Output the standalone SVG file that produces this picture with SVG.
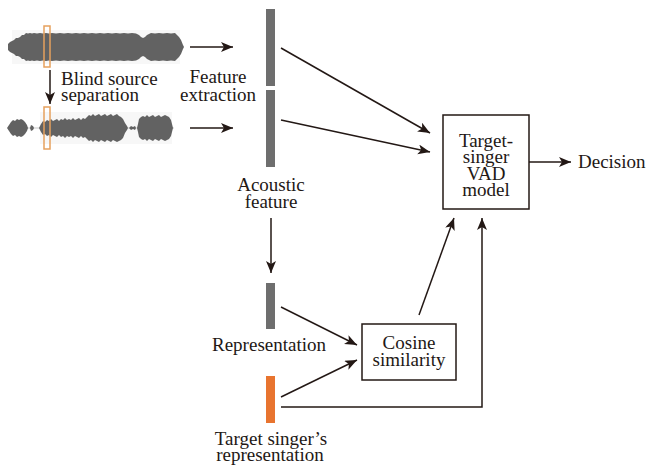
<svg xmlns="http://www.w3.org/2000/svg" width="652" height="470" viewBox="0 0 652 470">
  <style>
    .lbl { font-family: "Liberation Serif", "Times New Roman", "DejaVu Serif", serif; font-size: 19px; fill: #231815; }
    .mid { text-anchor: middle; }
    .conn { fill: none; stroke: #231815; stroke-width: 1.5; }
    .box { fill: #ffffff; stroke: #231815; stroke-width: 1.5; }
    .feat { fill: #6e6e6e; }
    .tgt { fill: #e8742f; }
    .wave { fill: #626262; filter: url(#soft); }
    .halo { fill: #d8d8d8; opacity: 0.2; filter: url(#soft); }
    .cursor { fill: none; stroke: #e6a15e; stroke-width: 1.5; }
  </style>
  <defs>
    <marker id="arrow" markerUnits="userSpaceOnUse" markerWidth="14" markerHeight="12" refX="12" refY="5" orient="auto">
      <path d="M0,0 L12,5 L0,10 L3,5 Z" fill="#231815"/>
    </marker>
    <filter id="soft" x="-5%" y="-20%" width="110%" height="140%">
      <feGaussianBlur stdDeviation="0.5"/>
    </filter>
  </defs>

  <!-- mixture waveform -->
  <g id="mixture-wave">
    <rect class="halo" x="12" y="30" width="168" height="34"/>
    <path class="wave" d="M8,47 L8,44 L10,42 L12,41 L14,40 L16,38 L18,38 L20,37 L22,35 L24,35 L26,33 L28,33.5 L30,33 L32,33.5 L34,33 L37,33.5 L40,33 L43,33.5 L46,33 L49,33.5 L52,33 L56,33.5 L60,33 L64,33.5 L68,33 L72,33.5 L76,33 L80,33.5 L84,33 L88,33.5 L92,33 L96,33.5 L100,33 L104,33.5 L108,33 L112,33.5 L116,33 L120,33.5 L124,33 L128,33.5 L132,33 L136,33.5 L139,35 L141,37 L143,38 L145,37 L147,35 L149,34 L151,33 L155,33.5 L159,33 L163,33.5 L167,33 L171,33.5 L175,33 L177,35 L179,37 L181,40 L183,45 L184,47 L183,49 L181,54 L179,57 L177,59 L175,61 L171,60.5 L167,61 L163,60.5 L159,61 L155,60.5 L151,61 L149,60 L147,59 L145,57 L143,56 L141,57 L139,59 L136,60.5 L132,61 L128,60.5 L124,61 L120,60.5 L116,61 L112,60.5 L108,61 L104,60.5 L100,61 L96,60.5 L92,61 L88,60.5 L84,61 L80,60.5 L76,61 L72,60.5 L68,61 L64,60.5 L60,61 L56,60.5 L52,61 L49,60.5 L46,61 L43,60.5 L40,61 L37,60.5 L34,61 L32,60.5 L30,61 L28,60.5 L26,61 L24,59 L22,59 L20,57 L18,56 L16,56 L14,54 L12,53 L10,52 L8,50 Z"/>
    <rect class="cursor" x="44" y="26" width="6" height="41"/>
  </g>

  <!-- separated vocal waveform -->
  <g id="vocal-wave">
    <rect x="8" y="127.5" width="166" height="1" fill="#c8c8c8"/>
    <rect class="halo" x="40" y="112" width="132" height="32"/>
    <path class="wave" d="M7,128 L9,125 L11,122 L13,120 L15,121 L17,119 L19,120 L21,119 L23,120 L25,122 L27,125 L28,128 L27,131 L25,134 L23,136 L21,137 L19,136 L17,137 L15,135 L13,136 L11,134 L9,131 Z
      M30,128 L31,125 L33,126 L34,128 L33,130 L31,131 Z
      M39,128 L41,124 L43,121 L45,122 L47,120 L49,121 L51,119 L53,121 L55,120 L57,119 L59,121 L61,119 L63,120 L65,118 L67,120 L69,119 L71,120 L73,118 L75,120 L77,119 L79,118 L81,120 L83,118 L85,119 L87,117 L88,116 L89,115 L91,116 L93,114 L95,116 L97,115 L99,114 L101,116 L103,115 L105,114 L107,116 L109,115 L111,114 L113,116 L115,115 L117,114 L119,116 L121,117 L123,119 L125,123 L127,126 L128,128 L127,130 L125,133 L123,138 L121,140 L119,141 L117,142 L115,141 L113,140 L111,142 L109,141 L107,140 L105,142 L103,141 L101,140 L99,142 L97,141 L95,140 L93,142 L91,140 L89,141 L87,139 L85,137 L83,138 L81,136 L79,138 L77,137 L75,136 L73,138 L71,136 L69,137 L67,136 L65,138 L63,136 L61,137 L59,135 L57,137 L55,136 L53,135 L51,137 L49,135 L47,136 L45,134 L43,135 L41,132 Z
      M129,128 L131,126 L133,127 L135,126 L136,128 L135,130 L133,129 L131,130 Z
      M137,128 L138,124 L139,119 L141,117 L143,116 L145,117 L147,115 L149,117 L151,116 L153,115 L155,117 L157,116 L159,115 L161,117 L163,116 L165,115 L167,116 L169,117 L171,120 L172,124 L173,128 L172,132 L171,136 L169,139 L167,140 L165,141 L163,140 L161,139 L159,141 L157,140 L155,139 L153,141 L151,140 L149,139 L147,141 L145,139 L143,140 L141,139 L139,137 L138,132 Z"/>
    <rect class="cursor" x="44" y="107" width="6" height="42"/>
  </g>

  <g id="bss-label">
    <text class="lbl" x="61" y="85">Blind source</text>
    <text class="lbl" x="61" y="101">separation</text>
  </g>

  <g id="fe-label">
    <text class="lbl mid" x="218" y="83">Feature</text>
    <text class="lbl mid" x="218" y="101">extraction</text>
  </g>

  <!-- acoustic feature vectors -->
  <g id="feature-mix">
    <rect class="feat" x="266" y="9" width="9" height="77"/>
  </g>
  <g id="feature-vocal">
    <rect class="feat" x="266" y="90" width="9" height="77"/>
    <text class="lbl mid" x="271" y="191">Acoustic</text>
    <text class="lbl mid" x="271" y="208">feature</text>
  </g>

  <g id="vad-model">
    <rect class="box" x="443" y="115" width="86" height="94"/>
    <text class="lbl mid" x="486" y="147">Target-</text>
    <text class="lbl mid" x="486" y="163">singer</text>
    <text class="lbl mid" x="486" y="180">VAD</text>
    <text class="lbl mid" x="486" y="196">model</text>
  </g>

  <g id="decision">
    <text class="lbl" x="578" y="168">Decision</text>
  </g>

  <g id="representation">
    <rect class="feat" x="266" y="283" width="9" height="46"/>
    <text class="lbl mid" x="269" y="351">Representation</text>
  </g>

  <g id="target-representation">
    <rect class="tgt" x="266" y="376" width="9" height="47"/>
    <text class="lbl mid" x="271" y="445">Target singer’s</text>
    <text class="lbl mid" x="270" y="461">representation</text>
  </g>

  <g id="cosine">
    <rect class="box" x="362" y="324" width="94" height="56"/>
    <text class="lbl mid" x="409" y="349">Cosine</text>
    <text class="lbl mid" x="409" y="366">similarity</text>
  </g>

  <g id="connectors">
    <line class="conn" x1="50" y1="70" x2="50" y2="104" marker-end="url(#arrow)"/>
    <line class="conn" x1="190" y1="47" x2="233" y2="47" marker-end="url(#arrow)"/>
    <line class="conn" x1="190" y1="128" x2="233" y2="128" marker-end="url(#arrow)"/>
    <line class="conn" x1="281" y1="48" x2="430" y2="133" marker-end="url(#arrow)"/>
    <line class="conn" x1="281" y1="120" x2="430" y2="152" marker-end="url(#arrow)"/>
    <line class="conn" x1="529" y1="162" x2="571" y2="162" marker-end="url(#arrow)"/>
    <line class="conn" x1="271" y1="218" x2="271" y2="273" marker-end="url(#arrow)"/>
    <line class="conn" x1="281" y1="307" x2="357" y2="345" marker-end="url(#arrow)"/>
    <line class="conn" x1="281" y1="397" x2="357" y2="360" marker-end="url(#arrow)"/>
    <line class="conn" x1="419" y1="315" x2="454" y2="218" marker-end="url(#arrow)"/>
    <polyline class="conn" points="281,407 482,407 482,218" marker-end="url(#arrow)"/>
  </g>
</svg>
